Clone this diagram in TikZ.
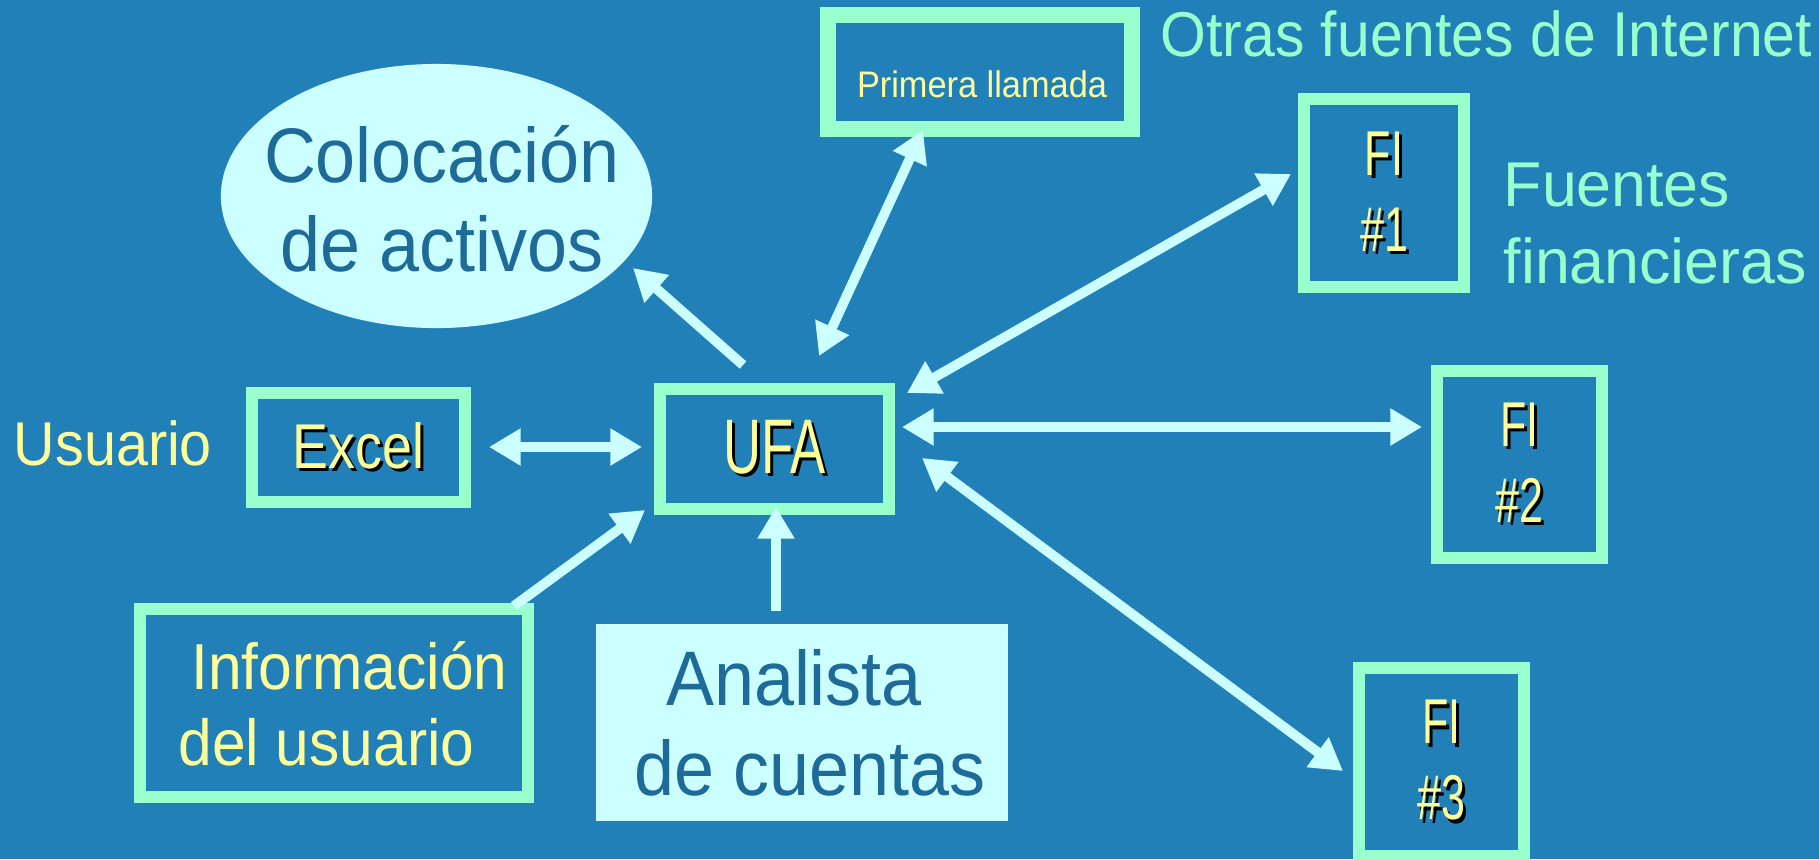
\documentclass[tikz,border=0pt]{standalone}
\usepackage{fontspec}
\setmainfont[FakeStretch=0.93]{Liberation Sans}
\newfontfamily\condfont[FakeStretch=0.68]{Liberation Sans}
\newfontfamily\midfont[FakeStretch=0.85]{Liberation Sans}
\newfontfamily\widefont[FakeStretch=0.99]{Liberation Sans}
\usepackage{xcolor}
\usetikzlibrary{arrows.meta,shapes.geometric}
\definecolor{bgcol}{HTML}{2280B8}
\definecolor{mintcol}{HTML}{99FFCC}
\definecolor{yelcol}{HTML}{FFFF99}
\definecolor{lightcol}{HTML}{CCFFFF}
\definecolor{darkcol}{HTML}{1E6A98}
\newcommand{\shd}[1]{\rlap{\kern0.9pt\raisebox{-0.9pt}{\color{black}#1}}#1}

\tikzset{
  mintbox/.style={draw=mintcol, line width=3.4pt, inner sep=0pt, align=center, text=yelcol},
  arr/.style={draw=lightcol, line width=2.8pt, -{Triangle[length=9pt,width=10pt]}},
  dblarr/.style={arr, {Triangle[length=9pt,width=10pt]}-{Triangle[length=9pt,width=10pt]}},
}

\begin{document}
\begin{tikzpicture}[x=0.01cm, y=-0.01cm]

% ---------------------------------------------------------------- background
\fill[bgcol] (0,0) rectangle (1819,859);
\useasboundingbox (0,0) rectangle (1819,859);

% ------------------------------------------------------------ centre and left
\node[mintbox, minimum width=2.29cm, minimum height=1.20cm,
  font=\condfont\fontsize{22}{26}\selectfont] (ufa) at (774.5,449) {\shd{UFA}};
\node[mintbox, minimum width=2.13cm, minimum height=1.09cm,
  font=\midfont\fontsize{18}{21}\selectfont] (excel) at (358.5,447.5) {\shd{Excel}};
\node[anchor=base west, inner sep=0pt, text=yelcol, font=\fontsize{17.6}{20}\selectfont]
  (usuario) at (13,465) {Usuario};

% asset allocation
\node[ellipse, fill=lightcol, minimum width=4.31cm, minimum height=2.64cm, inner sep=0pt]
  (coloc) at (436.5,196) {};
\node[text=darkcol, align=center, inner sep=0pt, font=\fontsize{22}{25.3}\selectfont]
  (coloctxt) at (442,199) {Colocación\\de activos};

% first call
\node[mintbox, line width=4.5pt, minimum width=3.04cm, minimum height=1.14cm]
  (prim) at (980,72) {};
\node[anchor=base, inner sep=0pt, text=yelcol, font=\fontsize{10.5}{12}\selectfont]
  (primtxt) at (982,97) {Primera llamada};
\node[anchor=base west, inner sep=0pt, text=mintcol, font=\fontsize{18}{22}\selectfont]
  (otras) at (1160,56) {Otras fuentes de Internet};

% ------------------------------------------------------- financial sources
\node[mintbox, minimum width=1.60cm, minimum height=1.87cm,
  font=\condfont\fontsize{18}{21.6}\selectfont] (fi1) at (1384,193) {\shd{FI}\\\shd{\#1}};
\node[mintbox, minimum width=1.65cm, minimum height=1.87cm,
  font=\condfont\fontsize{18}{21.6}\selectfont] (fi2) at (1519.5,464.5) {\shd{FI}\\\shd{\#2}};
\node[mintbox, minimum width=1.65cm, minimum height=1.87cm,
  font=\condfont\fontsize{18}{21.6}\selectfont] (fi3) at (1441.5,762) {\shd{FI}\\\shd{\#3}};
\node[anchor=west, inner sep=0pt, align=left, text=mintcol, font=\widefont\fontsize{18}{21.9}\selectfont]
  (fuentes) at (1503,224) {Fuentes\\financieras};

% ------------------------------------------------------------ bottom inputs
\node[mintbox, minimum width=3.885cm, minimum height=1.87cm] (info) at (334,703) {};
\node[text=yelcol, align=left, inner sep=0pt, font=\fontsize{18.5}{21.8}\selectfont]
  (infotxt) at (343,704) {\hspace{0.13cm}Información\\del usuario};
\node[fill=lightcol, minimum width=4.12cm, minimum height=1.97cm, inner sep=0pt,
  align=center, text=darkcol, font=\fontsize{22}{25.6}\selectfont]
  (analista) at (802,722.5) {Analista\hspace*{0.16cm}\\\hspace*{0.16cm}de cuentas};

% ------------------------------------------------------------- arrow ends
\coordinate (u-nw) at (743,365);   \coordinate (c-se) at (633,268);
\coordinate (u-n)  at (819,356);   \coordinate (p-s)  at (923,130);
\coordinate (u-ne) at (907,393);   \coordinate (f1-w) at (1291,174);
\coordinate (u-e)  at (902,427);   \coordinate (f2-w) at (1422,427);
\coordinate (u-se) at (922,458);   \coordinate (f3-w) at (1343,771);
\coordinate (e-e)  at (489,447);   \coordinate (u-w)  at (642,447);
\coordinate (i-ne) at (514,606);   \coordinate (u-sw) at (645,510);
\coordinate (a-n)  at (776,611);   \coordinate (u-s)  at (776,507);

% ---------------------------------------------------------------- arrows
\draw[arr] (u-nw) -- (c-se);
\draw[dblarr] (u-n) -- (p-s);
\draw[dblarr] (u-ne) -- (f1-w);
\draw[dblarr] (u-e) -- (f2-w);
\draw[dblarr] (u-se) -- (f3-w);
\draw[dblarr] (e-e) -- (u-w);
\draw[arr] (i-ne) -- (u-sw);
\draw[arr] (a-n) -- (u-s);

\end{tikzpicture}
\end{document}
